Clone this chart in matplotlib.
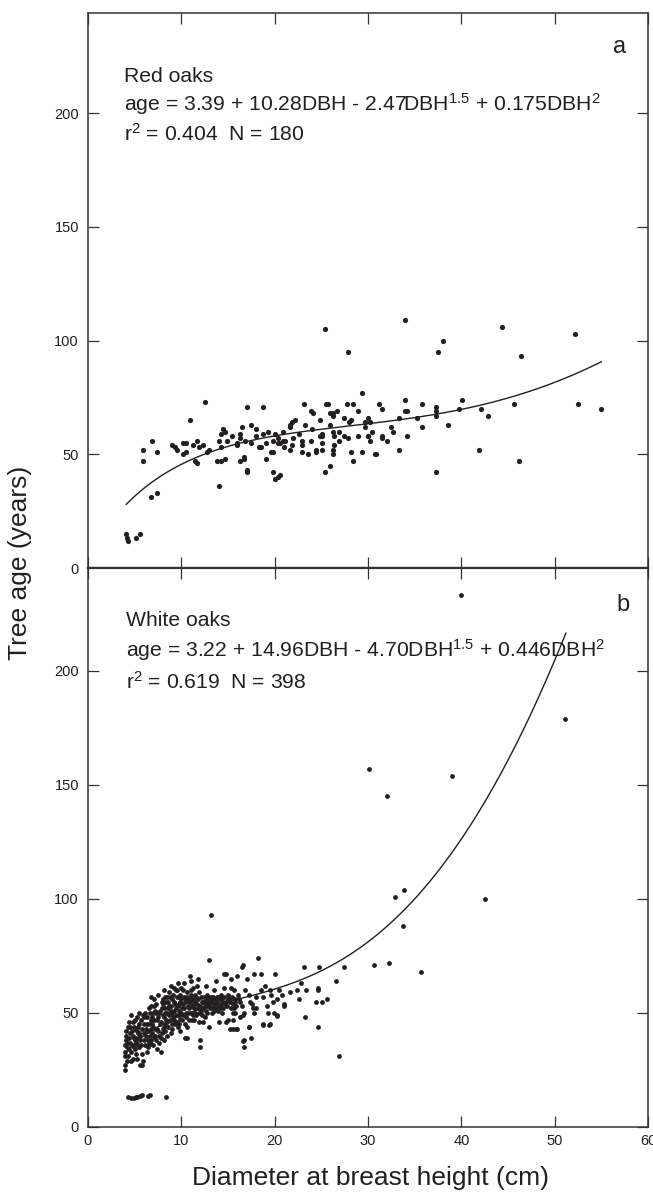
import numpy as np
import matplotlib
matplotlib.use('Agg')
from matplotlib import pyplot as plt

plt.rcParams['font.family'] = ['Liberation Sans', 'DejaVu Sans']
plt.rcParams['mathtext.fontset'] = 'custom'
plt.rcParams['mathtext.rm'] = 'Liberation Sans'
plt.rcParams['mathtext.it'] = 'Liberation Sans:italic'

INK = '#231f20'

# red oaks (panel a)
red_dbh = [25.4, 34.0, 27.9, 38.0, 37.5, 44.4, 52.2, 46.4, 52.5, 55.0,
           45.6, 42.9, 41.9, 46.2, 37.3, 40.1, 39.8, 42.1, 38.6, 37.3,
           37.3, 37.3, 35.8, 35.8, 35.3, 34.0, 34.0, 34.2, 33.3, 34.2,
           33.3, 32.7, 31.2, 31.5, 29.4, 30.0, 30.2, 29.7, 29.7, 30.4,
           30.2, 30.0, 30.0, 31.5, 31.5, 32.0, 30.7, 30.9, 29.4, 28.9,
           28.9, 28.4, 27.7, 28.2, 27.4, 27.4, 27.9, 28.2, 28.4, 26.7,
           26.9, 26.9, 26.2, 25.9, 26.2, 25.5, 25.7, 25.9, 26.2, 26.4,
           26.4, 26.2, 26.2, 25.9, 25.4, 25.1, 24.9, 25.1, 25.1, 25.1,
           24.9, 24.4, 24.4, 23.9, 24.1, 23.9, 23.6, 23.1, 22.9, 22.9,
           22.9, 22.6, 22.2, 21.9, 21.6, 21.6, 21.9, 21.6, 20.9, 20.9,
           21.1, 20.6, 20.4, 20.6, 20.4, 20.0, 19.8, 20.0, 20.4, 19.8,
           19.6, 19.8, 19.3, 19.1, 19.1, 18.8, 18.8, 18.5, 18.3, 18.0,
           17.5, 17.5, 17.0, 17.0, 17.0, 16.5, 16.3, 16.3, 16.0, 16.0,
           16.7, 16.7, 16.3, 14.9, 14.5, 14.7, 14.3, 14.0, 14.3, 14.7,
           14.3, 13.8, 14.0, 12.7, 12.5, 11.9, 11.7, 11.2, 11.7, 11.5,
           10.9, 10.5, 10.2, 10.5, 10.2, 9.5, 9.3, 9.0, 7.4, 6.9,
           5.9, 5.9, 7.4, 6.7, 4.1, 4.3, 4.2, 5.1, 5.6, 22.0,
           18.0, 15.4, 13.0, 24.0, 28.0, 32.5, 21.0, 12.3, 16.8, 23.3]
red_age = [105, 109, 95, 100, 95, 106, 103, 93, 72, 70,
           72, 67, 52, 47, 42, 74, 70, 70, 63, 71,
           69, 67, 72, 62, 66, 74, 69, 69, 66, 58,
           52, 60, 72, 70, 77, 66, 64, 64, 62, 60,
           56, 58, 58, 58, 57, 56, 50, 50, 51, 58,
           69, 72, 72, 65, 66, 58, 57, 51, 47, 69,
           60, 56, 67, 68, 68, 72, 72, 63, 60, 58,
           54, 52, 50, 45, 42, 58, 58, 59, 55, 52,
           65, 52, 51, 69, 68, 56, 50, 72, 56, 54,
           51, 59, 65, 64, 62, 63, 54, 52, 60, 56,
           56, 55, 55, 41, 40, 39, 42, 59, 57, 56,
           51, 51, 60, 55, 48, 59, 71, 53, 53, 58,
           63, 55, 71, 43, 42, 62, 59, 57, 55, 54,
           49, 48, 47, 56, 61, 60, 59, 56, 53, 48,
           47, 47, 36, 51, 73, 53, 56, 54, 46, 47,
           65, 55, 55, 51, 50, 52, 53, 54, 51, 56,
           52, 47, 33, 31, 15, 12, 13, 13, 15, 57,
           61, 58, 52, 61, 64, 62, 53, 54, 56, 63]

# white oaks (panel b)
white_dbh = [4.3, 4.6, 4.9, 5.1, 5.6, 5.8, 6.4, 6.6, 8.4, 5.3,
             4.0, 4.0, 4.0, 4.0, 4.0, 4.1, 4.1, 4.1, 4.2, 4.2,
             4.4, 4.4, 4.3, 4.5, 4.5, 4.6, 4.6, 4.6, 4.7, 4.8,
             4.9, 4.9, 5.0, 5.1, 5.1, 5.2, 5.3, 5.4, 5.5, 5.5,
             5.5, 5.6, 5.8, 5.9, 5.6, 5.7, 5.9, 6.0, 6.0, 6.0,
             6.2, 6.4, 6.4, 6.5, 6.3, 6.6, 6.7, 6.7, 6.9, 6.9,
             7.0, 7.1, 7.1, 7.1, 7.2, 7.3, 7.4, 7.4, 7.4, 7.6,
             7.6, 7.7, 7.8, 7.8, 7.9, 8.0, 8.0, 8.0, 8.1, 8.1,
             8.3, 8.3, 8.4, 8.5, 8.5, 8.6, 8.7, 8.7, 8.7, 8.9,
             8.9, 9.0, 9.0, 9.1, 9.2, 9.2, 9.2, 9.4, 9.4, 9.5,
             9.6, 9.7, 9.8, 9.9, 9.9, 9.9, 9.9, 10.0, 10.1, 10.2,
             10.3, 10.4, 10.5, 10.5, 10.6, 10.6, 10.6, 10.7, 10.8, 10.9,
             11.0, 11.0, 11.0, 11.1, 11.2, 11.3, 11.4, 11.5, 11.5, 11.6,
             11.7, 11.8, 11.9, 11.9, 12.0, 12.0, 12.1, 12.2, 12.3, 12.3,
             12.4, 12.5, 12.6, 12.7, 12.8, 12.9, 13.0, 13.0, 13.0, 13.2,
             13.2, 13.3, 13.4, 13.5, 13.5, 13.6, 13.7, 13.8, 14.0, 14.0,
             14.1, 14.2, 14.3, 14.4, 14.5, 14.6, 14.6, 14.7, 14.8, 14.8,
             15.0, 15.0, 15.1, 15.2, 15.3, 15.3, 15.5, 15.5, 15.5, 15.6,
             15.6, 15.7, 15.8, 15.9, 16.0, 16.0, 16.2, 16.3, 16.5, 16.6,
             16.7, 16.7, 16.7, 16.6, 16.6, 17.0, 17.2, 17.3, 17.4, 17.5,
             17.6, 17.7, 17.8, 17.8, 18.0, 18.2, 18.5, 18.5, 18.7, 18.8,
             18.8, 19.0, 19.3, 19.4, 19.5, 19.5, 19.6, 19.8, 19.9, 20.0,
             20.2, 20.3, 20.5, 20.8, 21.0, 21.0, 21.6, 22.4, 22.6, 22.8,
             23.1, 23.2, 23.4, 24.4, 24.6, 24.6, 24.6, 24.8, 25.1, 25.6,
             26.6, 26.9, 27.4, 30.6, 32.2, 35.7, 33.7, 32.9, 33.9, 42.5,
             30.1, 32.0, 39.0, 51.1, 40.0,
             4.2, 4.3, 4.4, 4.5, 4.7, 4.8, 4.8, 5.0, 5.0, 5.2,
             5.3, 5.4, 5.6, 5.7, 5.8, 5.8, 6.0, 6.1, 6.1, 6.2,
             6.3, 6.3, 6.4, 6.5, 6.5, 6.6, 6.7, 6.8, 6.8, 6.9,
             7.0, 7.0, 7.1, 7.2, 7.2, 7.3, 7.3, 7.5, 7.5, 7.6,
             7.7, 7.8, 7.9, 7.9, 8.0, 8.1, 8.2, 8.2, 8.3, 8.4,
             8.5, 8.5, 8.6, 8.6, 8.8, 8.8, 8.9, 9.0, 9.0, 9.1,
             9.2, 9.3, 9.3, 9.4, 9.5, 9.5, 9.6, 9.7, 9.8, 9.8,
             10.0, 10.0, 10.1, 10.2, 10.2, 10.3, 10.4, 10.4, 10.5, 10.6,
             10.7, 10.8, 10.8, 10.9, 11.0, 11.1, 11.2, 11.3, 11.4, 11.5,
             11.6, 11.7, 11.8, 11.9, 12.0, 12.1, 12.2, 12.3, 12.4, 12.5,
             12.6, 12.7, 12.8, 12.9, 13.0, 13.1, 13.2, 13.3, 13.4, 13.5,
             13.6, 13.7, 13.8, 13.9, 14.0, 14.2, 14.3, 14.5, 14.6, 14.8,
             14.9, 15.0, 15.2, 15.4, 15.5, 15.7, 15.9, 16.1, 16.3, 16.5,
             5.0, 5.3, 4.9, 5.5, 6.8, 7.5, 8.1, 8.9, 9.6, 10.3,
             11.0, 11.8, 12.6, 13.7, 15.3, 16.8, 17.3, 18.0, 19.2, 20.2]
white_age = [13, 12.5, 12.5, 13, 13.5, 14, 13.5, 14, 13, 13,
             25, 27, 31, 33, 36, 38, 40, 42, 35, 29,
             39, 46, 44, 37, 41, 49, 33, 29, 36, 40,
             35, 39, 43, 32, 37, 39, 36.5, 41, 35, 41,
             45, 27, 27, 29, 38, 47, 49, 48, 41, 38,
             43, 35, 38, 52, 45, 40, 36.5, 47, 45, 41,
             50, 39.5, 53, 56, 43, 50, 34, 43, 47, 50,
             40, 45, 33, 39, 52, 56, 54, 43, 44, 48,
             50, 42, 55, 46, 57, 52, 59, 53, 49, 41,
             51, 45, 56, 48, 61, 47, 55, 60, 52, 57,
             44, 51, 54, 58, 47.5, 55, 42, 61, 52, 49,
             57, 39, 50, 56, 39, 44, 59, 53, 55, 66,
             50, 55, 58, 47, 61, 53, 47, 50, 55, 57,
             62, 52, 46, 59, 38, 35, 51, 55, 46, 55,
             57, 53, 51, 58, 56, 54, 53, 44, 73, 93,
             57, 56, 52, 60, 51, 54, 55, 57, 53, 46,
             56, 58, 52, 50, 55, 61, 67, 54, 67, 46,
             47, 56, 56, 43, 61, 52, 43, 47, 50, 60,
             52, 50, 55, 43, 66, 43, 56, 48, 70, 71,
             50, 38, 35, 49, 37.7, 65, 44, 44, 55, 39,
             54, 52, 67, 50, 52, 74, 67, 60, 44.6, 57,
             45, 62, 50, 44.6, 60, 45, 58, 55, 50, 67,
             48.7, 49, 60, 58, 54, 53, 59, 60, 56, 63,
             70, 48, 60, 55, 61, 60, 44, 70, 55, 56,
             64, 31, 70, 71, 72, 68, 88, 101, 104, 100,
             157, 145, 154, 179, 233,
             37, 31, 34, 44, 42, 30, 46, 38, 34, 42,
             30, 44, 40, 36, 43, 32, 45, 36, 50, 40,
             33, 48, 42, 37, 45, 50, 43, 38, 53, 48,
             36, 44, 47, 40, 51, 38, 54, 42, 48, 37,
             51, 46, 41, 55, 49, 38, 45, 52, 57, 47,
             40, 50, 44, 55, 47, 57, 53, 50, 43, 58,
             51, 45, 54, 49, 60, 46, 53, 57, 49, 45,
             50, 56, 47, 54, 60, 52, 45, 55, 48, 57,
             50, 52, 47, 56, 60, 53, 49, 56, 52, 58,
             49, 54, 56, 50, 53, 57, 49, 52, 55, 48,
             55, 53, 50, 57, 55, 52, 55, 50, 57, 54,
             56, 52, 55, 51, 57, 54, 56, 52, 57, 55,
             53, 58, 55, 57, 54, 56, 53, 58, 55, 53,
             47, 48, 44, 50, 57, 58, 60, 62, 63, 63,
             64, 65, 62, 64, 65, 60, 58, 57, 53, 56]

# fitted curves: age = c0 + c1*DBH - c2*DBH^1.5 + c3*DBH^2
red_coef = [3.39, 10.28, 2.47, 0.175]
white_coef = [3.22, 14.96, 4.70, 0.446]
red_range = [4.1, 55.0]
white_range = [4.0, 51.2]


def fit_curve(coef, lo, hi):
    d = np.linspace(lo, hi, 300)
    return d, coef[0] + coef[1]*d - coef[2]*d**1.5 + coef[3]*d**2


W, H = 653, 1199
fig = plt.figure(figsize=(W/100, H/100), dpi=100)
ax1 = fig.add_axes([88/W, 1-568/H, 560/W, 555/H])
ax2 = fig.add_axes([88/W, 1-1127/H, 560/W, 559/H])

for ax, top in ((ax1, 244), (ax2, 245)):
    ax.set_xlim(0, 60)
    ax.set_ylim(0, top)
    ax.set_xticks(range(0, 61, 10))
    ax.set_yticks(range(0, 201, 50))
    ax.tick_params(direction='in', length=8, width=0.9, colors='#333333',
                   labelsize=10.5, labelcolor=INK, top=True, right=True, pad=6.5)
    for s in ax.spines.values():
        s.set_color('#333333')
        s.set_linewidth(1.1)

ax1.tick_params(labelbottom=False)
ax1.spines['bottom'].set_linewidth(1.6)
ax2.spines['top'].set_linewidth(1.6)
ax2.tick_params(axis='x', pad=5)

ax1.scatter(red_dbh, red_age, s=14, color=INK, linewidths=0, zorder=3)
d, a = fit_curve(red_coef, *red_range)
ax1.plot(d, a, color=INK, lw=1.0)

ax2.scatter(white_dbh, white_age, s=12, color=INK, linewidths=0, zorder=3)
d, a = fit_curve(white_coef, *white_range)
ax2.plot(d, a, color=INK, lw=1.0)

fs = 15.2
ax1.text(57, 229, 'a', fontsize=17, color=INK, ha='center', va='center')
ax1.text(3.85, 216, 'Red oaks', fontsize=fs, color=INK, va='center')
ax1.text(3.85, 204, r'age = 3.39 + 10.28DBH - 2.47DBH$^{1.5}$ + 0.175DBH$^{2}$',
         fontsize=fs, color=INK, va='center')
ax1.text(3.85, 191, r'r$^{2}$ = 0.404  N = 180', fontsize=fs, color=INK, va='center')

ax2.text(57.3, 229, 'b', fontsize=17, color=INK, ha='center', va='center')
ax2.text(4.1, 222, 'White oaks', fontsize=fs, color=INK, va='center')
ax2.text(4.1, 209, r'age = 3.22 + 14.96DBH - 4.70DBH$^{1.5}$ + 0.446DBH$^{2}$',
         fontsize=fs, color=INK, va='center')
ax2.text(4.1, 195, r'r$^{2}$ = 0.619  N = 398', fontsize=fs, color=INK, va='center')

fig.text(8/W, 1-660/H, 'Tree age (years)', rotation=90, fontsize=19,
         color=INK, ha='left', va='bottom')
fig.text(370/W, 1-1178/H, 'Diameter at breast height (cm)', fontsize=19,
         color=INK, ha='center', va='center')

fig.savefig('out.png', dpi=100)
